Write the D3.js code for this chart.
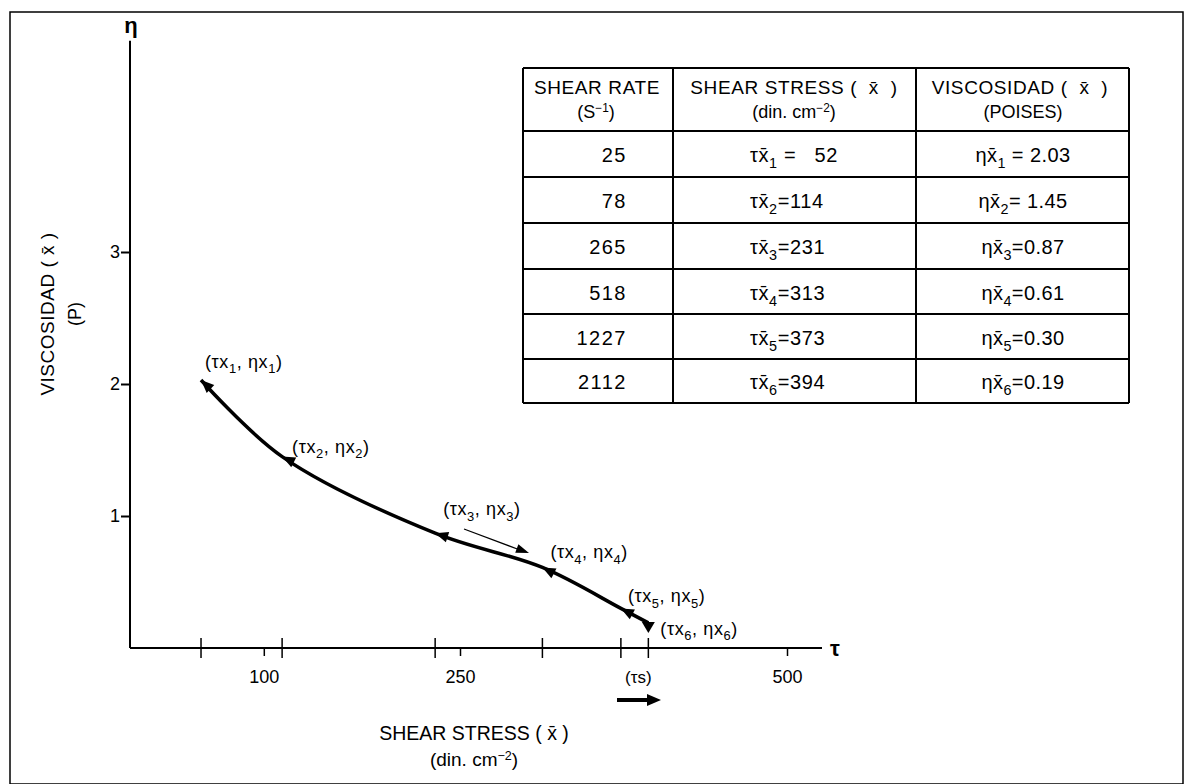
<!DOCTYPE html>
<html>

<head>
  <meta charset="utf-8">
  <title>Viscosidad vs shear stress</title>
  <style>
    body {
      margin: 0;
      background: #fff;
    }

    text {
      font-family: "Liberation Sans", Arial, Helvetica, sans-serif;
      fill: #000;
    }

    .tbl line {
      stroke: #000;
      stroke-width: 2px;
    }
  </style>
</head>

<body>
  <svg width="1193" height="784"></svg>

  <script src="https://cdn.jsdelivr.net/npm/d3@7"></script>
  <script>
    // datos de la tabla
    var shearRate = [25, 78, 265, 518, 1227, 2112];
    var shearStress = [52, 114, 231, 313, 373, 394];
    var viscosidad = [2.03, 1.45, 0.87, 0.61, 0.30, 0.19];
    var rateLabels = ["25", "78", "265", "518", "1227", "2112"];
    var stressLabels = [" =   52", "=114", "=231", "=313", "=373", "=394"];
    var viscLabels = [" = 2.03", "= 1.45", "=0.87", "=0.61", "=0.30", "=0.19"];

    // ejes
    var xTicks = [100, 250, 500];
    var xTickLabels = ["100", "250", "500"];
    var yTicks = [1, 2, 3];

    var svg = d3.select("svg");

    // marco
    svg.append("rect")
      .attr("x", 10).attr("y", 12)
      .attr("width", 1173).attr("height", 772)
      .attr("fill", "none").attr("stroke", "#000").attr("stroke-width", 1.5);

    var x = d3.scaleLinear().domain([0, 500]).range([133, 787]);
    var y = d3.scaleLinear().domain([0, 3]).range([648, 252]);
    var x0 = 130, y0 = 648;

    // texto con subindices: "ηx_{1}" , "cm^{-2}"
    function rich(sel, px, py, str, size, anchor) {
      var t = sel.append("text")
        .attr("x", px).attr("y", py)
        .attr("font-size", size)
        .attr("text-anchor", anchor || "start");
      var parts = str.split(/(_\{[^}]*\}|\^\{[^}]*\})/);
      var cur = 0;
      parts.forEach(function (p) {
        if (p === "") return;
        var off = 0, fs = size, txt = p;
        if (p[0] === "_") { off = size * 0.3; fs = size * 0.72; txt = p.slice(2, -1); }
        if (p[0] === "^") { off = -size * 0.33; fs = size * 0.66; txt = p.slice(2, -1); }
        t.append("tspan")
          .attr("dy", off - cur)
          .attr("font-size", fs)
          .attr("xml:space", "preserve")
          .text(txt);
        cur = off;
      });
      return t;
    }

    // eje y
    svg.append("line")
      .attr("x1", x0).attr("x2", x0)
      .attr("y1", y0).attr("y2", y(4.6))
      .attr("stroke", "#000").attr("stroke-width", 2);

    var yAxis = svg.append("g")
      .attr("transform", "translate(" + x0 + ",0)")
      .call(d3.axisLeft(y).tickValues(yTicks).tickSize(9).tickPadding(1).tickFormat(d3.format("d")));
    yAxis.select(".domain").remove();
    yAxis.selectAll("line").attr("stroke-width", 2);
    yAxis.selectAll("text").attr("font-size", 18).attr("font-family", "Liberation Sans, Arial, sans-serif");

    svg.append("text")
      .attr("x", x0 + 1).attr("y", 33)
      .attr("text-anchor", "middle")
      .attr("font-size", 22).attr("font-weight", "bold")
      .text("η");

    // eje x
    svg.append("line")
      .attr("x1", x0).attr("x2", 822)
      .attr("y1", y0).attr("y2", y0)
      .attr("stroke", "#000").attr("stroke-width", 2);

    var xAxis = svg.append("g")
      .attr("transform", "translate(0," + y0 + ")")
      .call(d3.axisBottom(x).tickValues(xTicks).tickSize(8).tickPadding(14)
        .tickFormat(function (d, i) { return xTickLabels[i]; }));
    xAxis.select(".domain").remove();
    xAxis.selectAll("line").attr("stroke-width", 1.5);
    xAxis.selectAll("text").attr("font-size", 18).attr("font-family", "Liberation Sans, Arial, sans-serif");

    // marcas que cruzan el eje en cada punto
    svg.selectAll(".cross")
      .data(shearStress)
      .enter().append("line")
      .attr("class", "cross")
      .attr("x1", function (d) { return x(d); })
      .attr("x2", function (d) { return x(d); })
      .attr("y1", y0 - 10).attr("y2", y0 + 10)
      .attr("stroke", "#000").attr("stroke-width", 1.5);

    svg.append("text")
      .attr("x", 835).attr("y", 656)
      .attr("text-anchor", "middle")
      .attr("font-size", 22).attr("font-weight", "bold")
      .text("τ");

    svg.append("text")
      .attr("x", x(shearStress[5]) - 10).attr("y", 683)
      .attr("text-anchor", "middle")
      .attr("font-size", 17)
      .text("(τs)");

    // flecha gruesa bajo (τs)
    svg.append("line")
      .attr("x1", 617).attr("x2", 650)
      .attr("y1", 700).attr("y2", 700)
      .attr("stroke", "#000").attr("stroke-width", 4);
    svg.append("path")
      .attr("d", "M661,700 L647,694 L647,706 Z")
      .attr("fill", "#000");

    // titulos de ejes
    rich(svg, 474, 740, "SHEAR STRESS ( x̄ )", 19.5, "middle");
    rich(svg, 474, 766, "(din. cm^{−2})", 19, "middle");

    var yt = svg.append("g").attr("transform", "translate(54,314) rotate(-90)");
    rich(yt, 0, 0, "VISCOSIDAD ( x̄ )", 19, "middle").attr("letter-spacing", 0.5);
    rich(yt, 0, 27, "(P)", 18, "middle");

    // curva
    var pts = shearStress.map(function (d, i) { return [x(d), y(viscosidad[i])]; });
    var line = d3.line().curve(d3.curveCatmullRom.alpha(0.5));
    svg.append("path")
      .attr("d", line(pts))
      .attr("fill", "none")
      .attr("stroke", "#000")
      .attr("stroke-width", 3.5);

    // puntas de flecha en cada punto (hacia el punto 1)
    pts.forEach(function (p, i) {
      if (i < 5) {
        var q = pts[i + 1];
        var ang = Math.atan2(p[1] - q[1], p[0] - q[0]);
        svg.append("path")
          .attr("d", "M0,0 L-13,-5.5 L-13,5.5 Z")
          .attr("transform", "translate(" + p[0] + "," + p[1] + ") rotate(" + (ang * 180 / Math.PI) + ")")
          .attr("fill", "#000");
      } else {
        svg.append("path")
          .attr("d", "M0,6 L-6.5,-5 L6.5,-5 Z")
          .attr("transform", "translate(" + p[0] + "," + (p[1] + 4) + ")")
          .attr("fill", "#000");
      }
    });

    // etiquetas de puntos
    var labOff = [[4, -12], [10, -4], [8, -18], [8, -9], [7, -6], [12, 12]];
    pts.forEach(function (p, i) {
      var n = i + 1;
      rich(svg, p[0] + labOff[i][0], p[1] + labOff[i][1],
        "(τx_{" + n + "}, ηx_{" + n + "})", 18, "start")
        .attr("letter-spacing", 0.6);
    });

    // flecha fina junto a (τx3, ηx3)
    svg.append("line")
      .attr("x1", 464).attr("y1", 529)
      .attr("x2", 520).attr("y2", 550)
      .attr("stroke", "#000").attr("stroke-width", 1.2);
    svg.append("path")
      .attr("d", "M0,0 L-13,-4.5 L-13,4.5 Z")
      .attr("transform", "translate(529,553) rotate(20.5)")
      .attr("fill", "#000");

    // tabla
    var colX = [523, 673, 916, 1129];
    var rowY = [68, 131, 177, 223, 269, 314, 359, 403];
    var tbl = svg.append("g").attr("class", "tbl");

    tbl.selectAll(".h")
      .data(rowY)
      .enter().append("line")
      .attr("x1", colX[0]).attr("x2", colX[3])
      .attr("y1", function (d) { return d; })
      .attr("y2", function (d) { return d; });
    tbl.selectAll(".v")
      .data(colX)
      .enter().append("line")
      .attr("x1", function (d) { return d; })
      .attr("x2", function (d) { return d; })
      .attr("y1", rowY[0]).attr("y2", rowY[7]);

    rich(tbl, 597, 94, "SHEAR RATE", 19, "middle").attr("letter-spacing", 0.6);
    rich(tbl, 596, 118, "(S^{−1})", 18, "middle");
    rich(tbl, 794, 94, "SHEAR STRESS (  x̄  )", 19, "middle").attr("letter-spacing", 0.6);
    rich(tbl, 794, 118, "(din. cm^{−2})", 18, "middle");
    rich(tbl, 1020, 94, "VISCOSIDAD (  x̄  )", 19, "middle").attr("letter-spacing", 0.6);
    rich(tbl, 1023, 118, "(POISES)", 18, "middle");

    shearRate.forEach(function (d, i) {
      var cy = (rowY[i + 1] + rowY[i + 2]) / 2 + 8;
      tbl.append("text")
        .attr("x", 627).attr("y", cy)
        .attr("text-anchor", "end")
        .attr("font-size", 20)
        .attr("letter-spacing", 1.5)
        .text(rateLabels[i]);
      rich(tbl, 750, cy, "τx̄_{" + (i + 1) + "}" + stressLabels[i], 20, "start")
        .attr("letter-spacing", 0.6);
      rich(tbl, 1023, cy, "ηx̄_{" + (i + 1) + "}" + viscLabels[i], 20, "middle")
        .attr("letter-spacing", 0.4);
    });
  </script>
</body>

</html>
